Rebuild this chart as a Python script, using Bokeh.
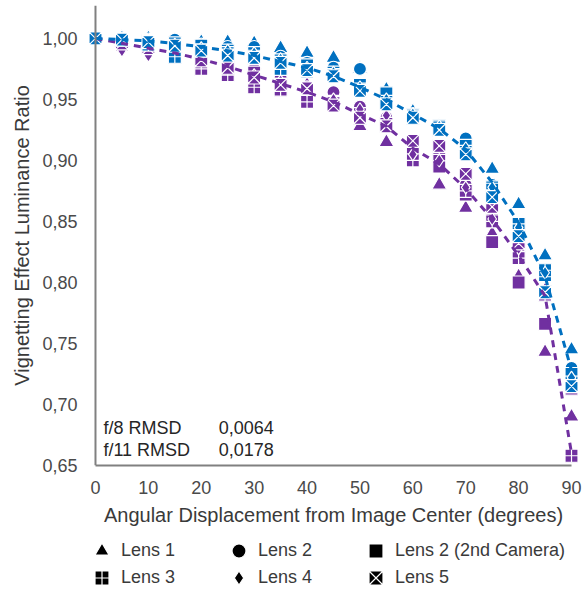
import numpy as np
from bokeh.plotting import figure
from bokeh.layouts import column
from bokeh.models import (Range1d, FixedTicker, CustomJSTickFormatter, Span, Label,
                          Legend, LegendItem)
from bokeh.embed import file_html
from bokeh.resources import INLINE

# ---------------- data ----------------
angles = [0, 5, 10, 15, 20, 25, 30, 35, 40, 45, 50, 55, 60, 65, 70, 75, 80, 85, 90]

lens_names = ["Lens 1", "Lens 2", "Lens 2 (2nd Camera)", "Lens 3", "Lens 4", "Lens 5"]
lens_markers = ["triangle", "circle", "square", "square_cross", "diamond", "square_x"]

# f/8 (blue)
f8_lens1 = [1.000, 1.000, 1.000, 0.998, 0.997, 0.997, 0.996, 0.992, 0.988, 0.984, 0.975, 0.958, 0.940, 0.928, 0.912, 0.893, 0.864, 0.822, 0.745]
f8_lens2 = [1.000, 0.999, 0.999, 0.999, 0.995, 0.993, 0.993, 0.985, 0.980, 0.976, 0.975, 0.952, 0.938, 0.928, 0.918, 0.880, 0.842, 0.810, 0.730]
f8_lens2b = [1.000, 0.999, 0.998, 0.996, 0.994, 0.990, 0.988, 0.982, 0.978, 0.972, 0.962, 0.955, 0.937, 0.928, 0.912, 0.878, 0.847, 0.806, 0.725]
f8_lens3 = [1.000, 0.999, 0.995, 0.985, 0.990, 0.988, 0.985, 0.975, 0.973, 0.970, 0.958, 0.948, 0.936, 0.927, 0.907, 0.876, 0.848, 0.810, 0.718]
f8_lens4 = [1.000, 0.999, 0.997, 0.995, 0.992, 0.990, 0.988, 0.983, 0.976, 0.972, 0.960, 0.950, 0.938, 0.928, 0.910, 0.878, 0.845, 0.808, 0.722]
f8_lens5 = [1.000, 0.999, 0.997, 0.994, 0.990, 0.986, 0.984, 0.980, 0.974, 0.969, 0.957, 0.946, 0.935, 0.925, 0.905, 0.870, 0.838, 0.792, 0.715]

# f/11 (purple)
f11_lens1 = [1.000, 0.997, 0.995, 0.992, 0.988, 0.983, 0.978, 0.970, 0.962, 0.950, 0.928, 0.915, 0.905, 0.880, 0.861, 0.840, 0.805, 0.743, 0.690]
f11_lens2 = [1.000, 0.996, 0.993, 0.990, 0.985, 0.980, 0.975, 0.968, 0.960, 0.956, 0.944, 0.935, 0.915, 0.900, 0.880, 0.855, 0.825, 0.790, 0.725]
f11_lens2b = [1.000, 0.996, 0.993, 0.988, 0.983, 0.978, 0.972, 0.962, 0.958, 0.948, 0.938, 0.930, 0.910, 0.895, 0.872, 0.833, 0.800, 0.766, 0.713]
f11_lens3 = [1.000, 0.995, 0.992, 0.985, 0.975, 0.970, 0.960, 0.958, 0.948, 0.947, 0.935, 0.930, 0.900, 0.905, 0.875, 0.850, 0.820, 0.790, 0.658]
f11_lens4 = [1.000, 0.990, 0.986, 0.988, 0.982, 0.978, 0.970, 0.965, 0.958, 0.950, 0.942, 0.937, 0.905, 0.900, 0.878, 0.852, 0.828, 0.795, 0.720]
f11_lens5 = [1.000, 0.996, 0.992, 0.988, 0.982, 0.976, 0.968, 0.962, 0.959, 0.945, 0.935, 0.928, 0.916, 0.912, 0.889, 0.862, 0.832, 0.792, 0.715]

# fitted model curves (dashed)
f8_fit = [1.000, 0.999, 0.998, 0.996, 0.993, 0.990, 0.986, 0.981, 0.976, 0.969, 0.960, 0.950, 0.938, 0.926, 0.909, 0.882, 0.849, 0.805, 0.728]
f11_fit = [1.000, 0.996, 0.992, 0.988, 0.983, 0.977, 0.970, 0.963, 0.956, 0.948, 0.938, 0.928, 0.910, 0.897, 0.877, 0.852, 0.822, 0.789, 0.660]

y_ticks = [0.65, 0.70, 0.75, 0.80, 0.85, 0.90, 0.95, 1.00]
x_ticks = [0, 10, 20, 30, 40, 50, 60, 70, 80, 90]

rmsd_labels = ["f/8 RMSD", "f/11 RMSD"]
rmsd_values = ["0,0064", "0,0178"]

BLUE = "#0070C0"
PURPLE = "#7030A0"
FONT = "Liberation Sans"

# ---------------- main figure ----------------
p = figure(width=584, height=537, output_backend="svg", toolbar_location=None,
           x_range=Range1d(-1.7, 91.7), y_range=Range1d(0.65, 1.027),
           min_border_left=86, min_border_right=4, min_border_top=5, min_border_bottom=72)
p.outline_line_color = None
p.grid.grid_line_color = None
p.background_fill_color = "white"
p.border_fill_color = "white"

xa = p.xaxis[0]
xa.ticker = FixedTicker(ticks=x_ticks)
xa.bounds = (0, 90)
xa.axis_line_color = "#808080"
xa.axis_line_width = 2
xa.major_tick_line_color = None
xa.minor_tick_line_color = None
xa.major_tick_out = 0
xa.major_label_standoff = 15
xa.major_label_text_font = FONT
xa.major_label_text_font_size = "18px"
xa.major_label_text_color = "#4a4a4a"
xa.axis_label = "Angular Displacement from Image Center (degrees)"
xa.axis_label_text_font = FONT
xa.axis_label_text_font_size = "20px"
xa.axis_label_text_font_style = "normal"
xa.axis_label_text_color = "#3a3a3a"
xa.axis_label_standoff = 7

ya = p.yaxis[0]
ya.ticker = FixedTicker(ticks=y_ticks)
ya.formatter = CustomJSTickFormatter(code="return tick.toFixed(2).replace('.', ',');")
ya.axis_line_color = None
ya.major_tick_line_color = None
ya.minor_tick_line_color = None
ya.major_tick_out = 0
ya.major_label_standoff = 9
ya.major_label_text_font = FONT
ya.major_label_text_font_size = "18px"
ya.major_label_text_color = "#4a4a4a"
ya.axis_label = "Vignetting Effect Luminance Ratio"
ya.axis_label_text_font = FONT
ya.axis_label_text_font_size = "20px"
ya.axis_label_text_font_style = "normal"
ya.axis_label_text_color = "#3a3a3a"
ya.axis_label_standoff = 6

# y axis line at x = 0
p.add_layout(Span(location=0, dimension="height", line_color="#808080", line_width=2))

f11_series = [f11_lens1, f11_lens2, f11_lens2b, f11_lens3, f11_lens4, f11_lens5]
f8_series = [f8_lens1, f8_lens2, f8_lens2b, f8_lens3, f8_lens4, f8_lens5]

def draw_markers(series, color):
    for vals, mk in zip(series, lens_markers):
        size = 15 if mk == "triangle" else 13
        p.scatter(angles, vals, marker=mk, size=size, fill_color=color,
                  line_color="white", line_width=1.2)

draw_markers(f11_series, PURPLE)
draw_markers(f8_series, BLUE)

p.line(angles, f11_fit, line_color=PURPLE, line_width=3, line_dash="7 6")
p.line(angles, f8_fit, line_color=BLUE, line_width=3, line_dash="7 6")

for lab, val, yy in zip(rmsd_labels, rmsd_values, [0.6811, 0.6631]):
    p.add_layout(Label(x=1.5, y=yy, text=lab, text_font=FONT, text_font_size="18px",
                       text_color="#262626", text_baseline="middle"))
    p.add_layout(Label(x=23.3, y=yy, text=val, text_font=FONT, text_font_size="18px",
                       text_color="#262626", text_baseline="middle"))

# ---------------- legend figure (two one-row legends) ----------------
lp = figure(width=584, height=54, output_backend="svg", toolbar_location=None,
            x_range=Range1d(0, 1), y_range=Range1d(0, 1),
            x_axis_type=None, y_axis_type=None,
            min_border_left=0, min_border_right=0, min_border_top=0, min_border_bottom=0)
lp.outline_line_color = None
lp.grid.grid_line_color = None

items = []
for name, mk in zip(lens_names, lens_markers):
    # hidden proxy renderer: only its style is used by the legend
    r = lp.scatter(x=[0.5], y=[0.5], marker=mk, size=13, fill_color="black",
                   line_color="white", line_width=1.2, visible=False)
    items.append(LegendItem(label=name, renderers=[r]))

def make_legend(its, loc):
    return Legend(items=its, orientation="horizontal", location=loc,
                  padding=0, margin=0, spacing=0,
                  glyph_width=35, glyph_height=35, label_standoff=2, label_width=100,
                  label_height=20, label_text_font=FONT, label_text_font_size="18px",
                  label_text_color="#3a3a3a", border_line_color=None,
                  background_fill_alpha=0)

lp.add_layout(make_legend(items[:3], (-2, 23)), "center")
lp.add_layout(make_legend(items[3:], (-2, -4)), "center")

layout = column(p, lp, spacing=0)
open("out.html", "w").write(file_html(layout, INLINE))
